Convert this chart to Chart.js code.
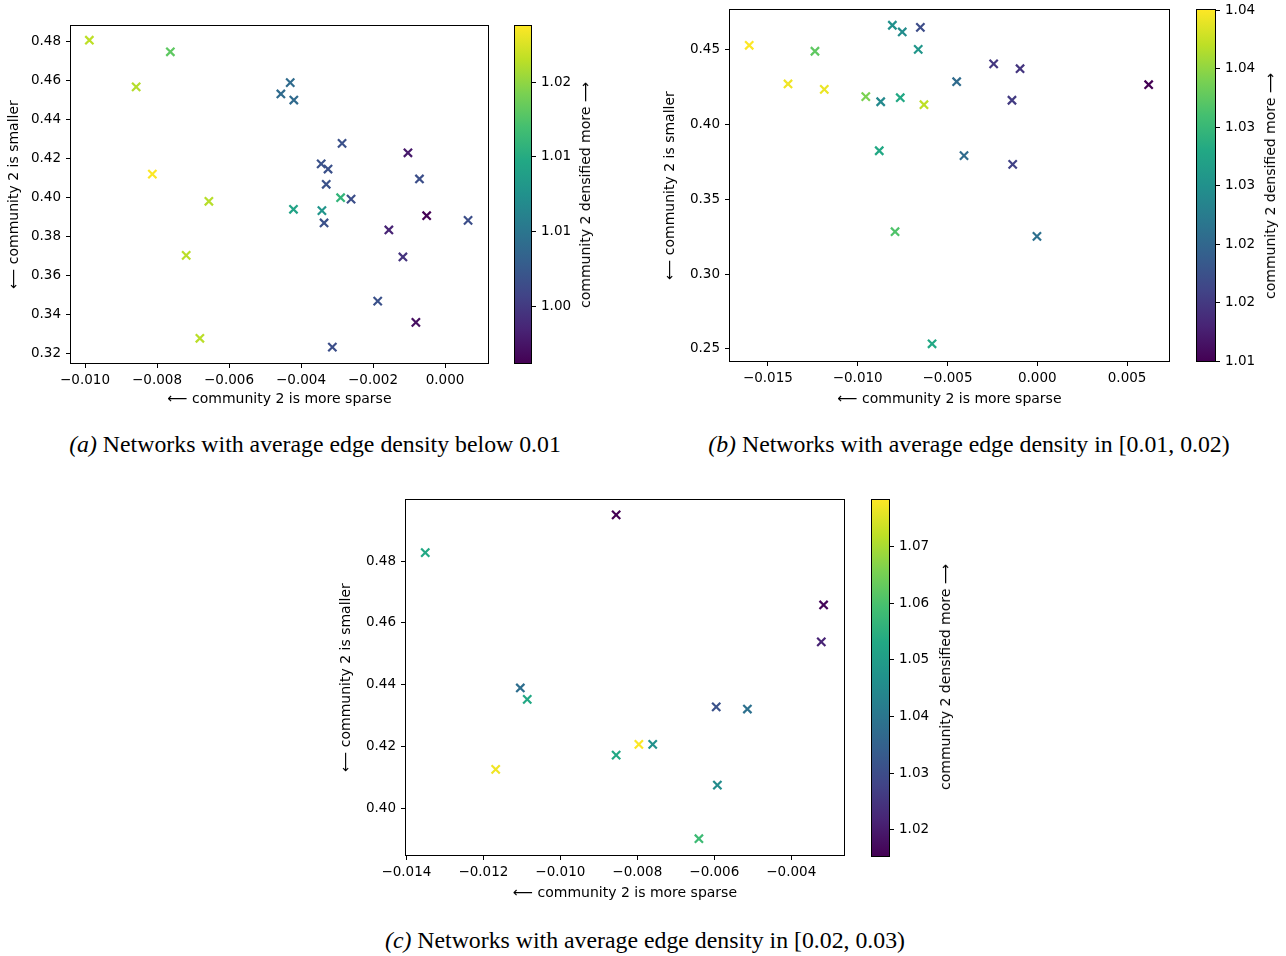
<!DOCTYPE html>
<html>
<head>
<meta charset="utf-8">
<script src="https://cdn.jsdelivr.net/npm/chart.js@4.4.1/dist/chart.umd.min.js"></script>
<style>
  body { margin: 0; background: #fff; width: 1286px; height: 956px; position: relative; overflow: hidden; font-family: 'DejaVu Sans', sans-serif; }
  canvas { position: absolute; }
  .cblabel { position: absolute; font-size: 14px; color: #000; white-space: nowrap; transform: translate(-50%, -50%) rotate(-90deg); }
  .caption { position: absolute; font-family: 'Liberation Serif', 'DejaVu Serif', serif; font-size: 23.8px; line-height: 26px; white-space: nowrap; transform: translateX(-50%); color: #000; }
</style>
</head>
<body>
<canvas id="scatterA"></canvas>
<canvas id="cbarA"></canvas>
<canvas id="scatterB"></canvas>
<canvas id="cbarB"></canvas>
<canvas id="scatterC"></canvas>
<canvas id="cbarC"></canvas>

<div class="cblabel" style="left:585px; top:195px;">community 2 densified more ⟶</div>
<div class="cblabel" style="left:1270px; top:186px;">community 2 densified more ⟶</div>
<div class="cblabel" style="left:945px; top:677px;">community 2 densified more ⟶</div>

<div class="caption" style="left:315px; top:431px;"><i>(a)</i> Networks with average edge density below 0.01</div>
<div class="caption" style="left:969px; top:431px;"><i>(b)</i> Networks with average edge density in [0.01, 0.02)</div>
<div class="caption" style="left:645px; top:927px;"><i>(c)</i> Networks with average edge density in [0.02, 0.03)</div>

<script>
// (a) density below 0.01
const aX = [-0.00988, -0.00763, -0.00858, -0.00430, -0.00456, -0.00420, -0.00286, -0.00103, -0.00813, -0.00344,
            -0.00325, -0.00071, -0.00330, -0.00656, -0.00290, -0.00261, -0.00421, -0.00342, -0.00051, 0.00064,
            -0.00336, -0.00156, -0.00719, -0.00117, -0.00187, -0.00081, -0.00681, -0.00313];
const aY = [0.4804, 0.4745, 0.4565, 0.4587, 0.4529, 0.4498, 0.4276, 0.4228, 0.4119, 0.4171,
            0.4145, 0.4094, 0.4067, 0.3980, 0.3998, 0.3991, 0.3939, 0.3932, 0.3906, 0.3882,
            0.3869, 0.3833, 0.3703, 0.3695, 0.3469, 0.3360, 0.3279, 0.3234];
const aC = [1.0215, 1.0181, 1.0212, 1.0091, 1.0091, 1.0090, 1.0068, 1.0028, 1.0237, 1.0069,
            1.0068, 1.0066, 1.0069, 1.0213, 1.0159, 1.0066, 1.0143, 1.0129, 1.0013, 1.0066,
            1.0068, 1.0035, 1.0214, 1.0046, 1.0068, 1.0021, 1.0214, 1.0066];
const aXTicks = [-0.010, -0.008, -0.006, -0.004, -0.002, 0.000];
const aXLabels = ['\u22120.010', '\u22120.008', '\u22120.006', '\u22120.004', '\u22120.002', '0.000'];
const aYTicks = [0.32, 0.34, 0.36, 0.38, 0.40, 0.42, 0.44, 0.46, 0.48];
const aYLabels = ['0.32', '0.34', '0.36', '0.38', '0.40', '0.42', '0.44', '0.46', '0.48'];
const aCTicks = [1.005, 1.010, 1.015, 1.020];
const aCLabels = ['1.00', '1.01', '1.01', '1.02'];

// (b) density in [0.01, 0.02)
const bX = [-0.01604, -0.01238, -0.00807, -0.00752, -0.00651, -0.00663, -0.01388, -0.01186, -0.00955, -0.00872,
            -0.00763, -0.00631, -0.00449, -0.00243, -0.00096, -0.00141, 0.00620, -0.00880, -0.00408, -0.00137,
            -0.00792, -0.00002, -0.00586];
const bY = [0.4531, 0.4491, 0.4665, 0.4620, 0.4651, 0.4504, 0.4272, 0.4236, 0.4187, 0.4153,
            0.4180, 0.4133, 0.4287, 0.4406, 0.4374, 0.4163, 0.4267, 0.3825, 0.3792, 0.3734,
            0.3283, 0.3252, 0.2533];
const bC = [1.0400, 1.0325, 1.0250, 1.0244, 1.0170, 1.0256, 1.0394, 1.0391, 1.0340, 1.0241,
            1.0280, 1.0370, 1.0205, 1.0148, 1.0146, 1.0152, 1.0100, 1.0280, 1.0205, 1.0158,
            1.0316, 1.0211, 1.0280];
const bXTicks = [-0.015, -0.010, -0.005, 0.000, 0.005];
const bXLabels = ['\u22120.015', '\u22120.010', '\u22120.005', '0.000', '0.005'];
const bYTicks = [0.25, 0.30, 0.35, 0.40, 0.45];
const bYLabels = ['0.25', '0.30', '0.35', '0.40', '0.45'];
const bCTicks = [1.010, 1.015, 1.020, 1.025, 1.030, 1.035, 1.040];
const bCLabels = ['1.01', '1.02', '1.02', '1.03', '1.03', '1.04', '1.04'];

// (c) density in [0.02, 0.03)
const cX = [-0.01351, -0.00855, -0.00316, -0.00322, -0.01104, -0.01086, -0.00595, -0.00514, -0.00796, -0.00760,
            -0.00855, -0.01168, -0.00592, -0.00640];
const cY = [0.4827, 0.4949, 0.4658, 0.4539, 0.4390, 0.4353, 0.4329, 0.4322, 0.4208, 0.4208,
            0.4173, 0.4127, 0.4076, 0.3903];
const cC = [1.0531, 1.0154, 1.0165, 1.0216, 1.0380, 1.0531, 1.0311, 1.0386, 1.0782, 1.0468,
            1.0531, 1.0770, 1.0455, 1.0581];
const cXTicks = [-0.014, -0.012, -0.010, -0.008, -0.006, -0.004];
const cXLabels = ['\u22120.014', '\u22120.012', '\u22120.010', '\u22120.008', '\u22120.006', '\u22120.004'];
const cYTicks = [0.40, 0.42, 0.44, 0.46, 0.48];
const cYLabels = ['0.40', '0.42', '0.44', '0.46', '0.48'];
const cCTicks = [1.02, 1.03, 1.04, 1.05, 1.06, 1.07];
const cCLabels = ['1.02', '1.03', '1.04', '1.05', '1.06', '1.07'];

const X_TITLE = '\u27F5 community 2 is more sparse';
const Y_TITLE = '\u27F5 community 2 is smaller';

// viridis anchors, 0.0 .. 1.0 in steps of 0.1
const VIRIDIS = ['#440154', '#482475', '#414487', '#355f8d', '#2a788e', '#21918c',
                 '#22a884', '#44bf70', '#7ad151', '#bddf26', '#fde725'];

function hexToRgb(h) {
    return [parseInt(h.slice(1, 3), 16), parseInt(h.slice(3, 5), 16), parseInt(h.slice(5, 7), 16)];
}

function viridis(t) {
    t = Math.min(1, Math.max(0, t));
    const pos = t * (VIRIDIS.length - 1);
    const i = Math.min(Math.floor(pos), VIRIDIS.length - 2);
    const f = pos - i;
    const a = hexToRgb(VIRIDIS[i]), b = hexToRgb(VIRIDIS[i + 1]);
    const c = a.map((v, k) => Math.round(v + (b[k] - v) * f));
    return `rgb(${c[0]},${c[1]},${c[2]})`;
}

const FONT = { family: "'DejaVu Sans', sans-serif", size: 13.5 };
const TITLE_FONT = { family: "'DejaVu Sans', sans-serif", size: 14 };
const Y_W = 70, X_H = 50, PAD_T = 20, PAD_R = 25;
const CB_W = 60, CB_PAD = 15;

// box around the plotting area, like matplotlib spines
const frame = {
    id: 'frame',
    afterDatasetsDraw(chart) {
        const { ctx, chartArea: a } = chart;
        ctx.save();
        ctx.strokeStyle = '#000';
        ctx.lineWidth = 1;
        ctx.strokeRect(a.left - 0.5, a.top - 0.5, a.right - a.left + 1, a.bottom - a.top + 1);
        ctx.restore();
    }
};

function placeCanvas(id, left, top, width, height) {
    const c = document.getElementById(id);
    c.width = width;
    c.height = height;
    c.style.left = left + 'px';
    c.style.top = top + 'px';
    c.style.width = width + 'px';
    c.style.height = height + 'px';
    return c;
}

function linAxis(lim, ticks, labels, fitSize, isY, title, titlePad, position) {
    return {
        type: 'linear',
        position: position,
        min: lim[0],
        max: lim[1],
        beginAtZero: false,
        afterBuildTicks: s => { s.ticks = ticks.map(v => ({ value: v })); },
        afterFit: s => { if (isY) s.width = fitSize; else s.height = fitSize; },
        ticks: { callback: (v, i) => labels[i], font: FONT, color: '#000', padding: isY ? 5 : 4, maxRotation: 0, autoSkip: false },
        grid: { drawOnChartArea: false, drawTicks: true, tickLength: 5, tickColor: '#000', tickWidth: 1 },
        border: { display: false },
        title: title
            ? { display: true, text: title, font: TITLE_FONT, color: '#000', padding: titlePad }
            : { display: false }
    };
}

function makeScatter(id, o) {
    const [l, t, r, b] = o.area;
    const canvas = placeCanvas(id, l - Y_W, t - PAD_T, r - l + Y_W + PAD_R, b - t + PAD_T + X_H);
    const colors = o.c.map(v => viridis((v - o.cLim[0]) / (o.cLim[1] - o.cLim[0])));

    new Chart(canvas, {
        type: 'scatter',
        data: {
            datasets: [{
                data: o.x.map((v, i) => ({ x: v, y: o.y[i] })),
                pointStyle: 'crossRot',
                pointRadius: 5.8,
                pointBorderWidth: 2.2,
                pointBorderColor: colors,
                pointBackgroundColor: colors
            }]
        },
        options: {
            responsive: false,
            animation: false,
            devicePixelRatio: 1,
            events: [],
            layout: { padding: { left: 0, top: PAD_T, right: PAD_R, bottom: 0 } },
            plugins: { legend: { display: false }, tooltip: { enabled: false } },
            scales: {
                x: linAxis(o.xLim, o.xTicks, o.xLabels, X_H, false, X_TITLE, { top: 4, bottom: o.xTitlePad }, 'bottom'),
                y: linAxis(o.yLim, o.yTicks, o.yLabels, Y_W, true, Y_TITLE, { top: o.yTitlePad, bottom: 4 }, 'left')
            }
        },
        plugins: [frame]
    });
}

function makeColorbar(id, area, cLim, ticks, labels) {
    const [l, t, r, b] = area;
    const canvas = placeCanvas(id, l - 5, t - CB_PAD, r - l + 5 + CB_W, b - t + 2 * CB_PAD);

    new Chart(canvas, {
        type: 'bar',
        data: {
            labels: [''],
            datasets: [{
                data: [[cLim[0], cLim[1]]],
                backgroundColor: ctx => {
                    const a = ctx.chart.chartArea;
                    if (!a) return 'transparent';
                    const g = ctx.chart.ctx.createLinearGradient(0, a.bottom, 0, a.top);
                    VIRIDIS.forEach((c, i) => g.addColorStop(i / (VIRIDIS.length - 1), c));
                    return g;
                },
                borderWidth: 0,
                barPercentage: 1,
                categoryPercentage: 1
            }]
        },
        options: {
            responsive: false,
            animation: false,
            devicePixelRatio: 1,
            events: [],
            layout: { padding: { left: 5, top: CB_PAD, right: 0, bottom: CB_PAD } },
            plugins: { legend: { display: false }, tooltip: { enabled: false } },
            scales: {
                x: { display: false },
                y: linAxis(cLim, ticks, labels, CB_W, true, null, 0, 'right')
            }
        },
        plugins: [frame]
    });
}

makeScatter('scatterA', {
    area: [71, 26, 488, 363],
    x: aX, y: aY, c: aC, cLim: [1.00122, 1.02376],
    xLim: [-0.01039, 0.001194], yLim: [0.31524, 0.48768],
    xTicks: aXTicks, xLabels: aXLabels, yTicks: aYTicks, yLabels: aYLabels,
    xTitlePad: 5.6, yTitlePad: 4.6
});
makeColorbar('cbarA', [515, 26, 531, 363], [1.00122, 1.02376], aCTicks, aCLabels);

makeScatter('scatterB', {
    area: [730, 10, 1169, 361],
    x: bX, y: bY, c: bC, cLim: [1.0100, 1.0400],
    xLim: [-0.01711, 0.007333], yLim: [0.24177, 0.47671],
    xTicks: bXTicks, xLabels: bXLabels, yTicks: bYTicks, yLabels: bYLabels,
    xTitlePad: 3.6, yTitlePad: 1.6
});
makeColorbar('cbarB', [1197, 10, 1215, 361], [1.0100, 1.0400], bCTicks, bCLabels);

makeScatter('scatterC', {
    area: [406, 500, 844, 855],
    x: cX, y: cY, c: cC, cLim: [1.01534, 1.07825],
    xLim: [-0.01401, -0.00263], yLim: [0.38505, 0.49971],
    xTicks: cXTicks, xLabels: cXLabels, yTicks: cYTicks, yLabels: cYLabels,
    xTitlePad: 3.6, yTitlePad: 1.6
});
makeColorbar('cbarC', [872, 500, 889, 856], [1.01534, 1.07825], cCTicks, cCLabels);
</script>
</body>
</html>
